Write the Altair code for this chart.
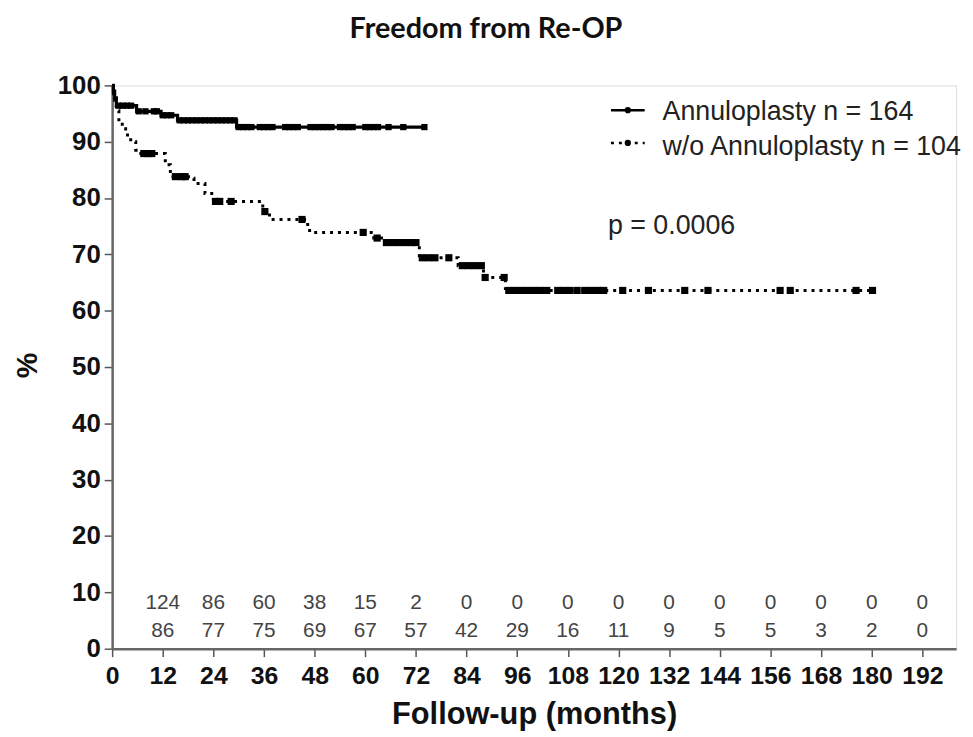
import altair as alt
import pandas as pd

FONT = "Liberation Sans"

# Kaplan-Meier step curves (months, % freedom from re-operation)
ann_t = [0, 0.3, 0.6, 1.0, 5.8, 11.6, 15.5, 29.5, 74]
ann_s = [100, 99, 97.8, 96.4, 95.4, 94.7, 93.8, 92.6, 92.6]

wo_t = [0, 0.3, 0.6, 1.0, 1.6, 2.4, 3.2, 4.4, 5.6, 6.8, 12.6, 13.8, 18.1, 19.4,
        22.0, 24.0, 35.7, 37.3, 45.6, 46.8, 62.0, 64.2, 72.8, 82.0, 88.0, 93.2, 181]
wo_s = [100, 98.5, 97, 95.5, 93.5, 92.3, 91.2, 90, 88.5, 87.9, 85.9, 83.8, 83.5, 82.6,
        80.8, 79.4, 77.6, 76.2, 75.3, 73.9, 72.9, 72.1, 69.4, 68.0, 65.9, 63.6, 63.6]

# censoring marks (months)
ann_c = [1.5, 2.5, 3.5, 4.5, 6.3, 7.9, 9.9, 10.6, 12, 13, 14, 16, 17, 18, 19, 20, 21, 22,
         23, 24, 25, 26, 27, 28, 29, 30, 31, 32, 33, 35, 36, 37, 38, 41, 42, 43, 44,
         47, 48, 49, 50, 51, 52, 54, 55, 56, 57, 60, 61, 62, 63, 65.5, 69, 74]
wo_c = [7.5, 8.5, 9.4, 15, 16.5, 17.3, 24.5, 25.5, 28.2, 36.2, 45, 59.5, 62.8, 65, 66.5,
        68, 69.5, 71, 72, 73.5, 75, 76.5, 79.8, 83, 84.5, 86, 87.5, 88.4, 92.9, 94, 95.5,
        97, 98.5, 100, 101.5, 103, 105.6, 107, 108.5, 110.2, 112, 113.5, 115, 116.5, 121,
        127.1, 135.7, 141.2, 158.3, 160.7, 176.3, 180.2]

# numbers at risk
risk_months = [12, 24, 36, 48, 60, 72, 84, 96, 108, 120, 132, 144, 156, 168, 180, 192]
risk_ann = [124, 86, 60, 38, 15, 2, 0, 0, 0, 0, 0, 0, 0, 0, 0, 0]
risk_wo = [86, 77, 75, 69, 67, 57, 42, 29, 16, 11, 9, 5, 5, 3, 2, 0]

x_ticks = list(range(0, 193, 12))
y_ticks = list(range(0, 101, 10))

legend_labels = ["Annuloplasty n = 164", "w/o Annuloplasty n = 104"]
p_text = "p = 0.0006"
title_text = "Freedom from Re-OP"


def on_curve(ts, ss, cs):
    out = []
    for c in cs:
        v = ss[0]
        for t, s in zip(ts, ss):
            if t <= c:
                v = s
        out.append(v)
    return out


df_ann = pd.DataFrame({"t": ann_t, "s": ann_s})
df_wo = pd.DataFrame({"t": wo_t, "s": wo_s})
df_ann_c = pd.DataFrame({"t": ann_c, "s": on_curve(ann_t, ann_s, ann_c)})
df_wo_c = pd.DataFrame({"t": wo_c, "s": on_curve(wo_t, wo_s, wo_c)})
df_risk = pd.DataFrame({"t": risk_months, "a": risk_ann, "w": risk_wo})
one = pd.DataFrame({"a": [0]})

xs = alt.Scale(domain=[0, 200], nice=False, zero=False)
ys = alt.Scale(domain=[0, 100], nice=False)

x_axis = alt.Axis(values=x_ticks, title="Follow-up (months)", grid=False,
                  labelFontSize=25, labelFontWeight="bold", labelColor="#111",
                  labelFont=FONT, labelPadding=7, labelFlush=False, labelOverlap=False,
                  tickSize=8, tickColor="#555", tickWidth=1.5,
                  domainColor="#666", domainWidth=2.5,
                  titleFont=FONT, titleFontSize=31, titleFontWeight="bold",
                  titleColor="#111", titlePadding=11)
y_axis = alt.Axis(values=y_ticks, title="%", grid=False,
                  labelFontSize=26, labelFontWeight="bold", labelColor="#111",
                  labelFont=FONT, labelPadding=4, labelFlush=False, labelOverlap=False,
                  tickSize=8, tickColor="#555", tickWidth=1.5,
                  domainColor="#666", domainWidth=2.5,
                  titleFont=FONT, titleFontSize=29, titleFontWeight="bold",
                  titleColor="#111", titleX=-85, titleY=282, titleBaseline="middle")

line_ann = alt.Chart(df_ann).mark_line(interpolate="step-after", color="black",
                                       strokeWidth=3.2).encode(
    x=alt.X("t:Q", scale=xs, axis=x_axis),
    y=alt.Y("s:Q", scale=ys, axis=y_axis))
line_wo = alt.Chart(df_wo).mark_line(interpolate="step-after", color="black",
                                     strokeWidth=3, strokeDash=[3, 5]).encode(
    x=alt.X("t:Q", scale=xs), y=alt.Y("s:Q", scale=ys))

pts_ann = alt.Chart(df_ann_c).mark_point(shape="square", filled=True, color="black",
                                         size=40, opacity=1).encode(
    x=alt.X("t:Q", scale=xs), y=alt.Y("s:Q", scale=ys))
pts_wo = alt.Chart(df_wo_c).mark_point(shape="square", filled=True, color="black",
                                       size=52, opacity=1).encode(
    x=alt.X("t:Q", scale=xs), y=alt.Y("s:Q", scale=ys))

risk1 = alt.Chart(df_risk).mark_text(font=FONT, fontSize=21, color="#444").encode(
    x=alt.X("t:Q", scale=xs), y=alt.value(522), text="a:Q")
risk2 = alt.Chart(df_risk).mark_text(font=FONT, fontSize=21, color="#444").encode(
    x=alt.X("t:Q", scale=xs), y=alt.value(550), text="w:Q")

title = alt.Chart(pd.DataFrame({"l": [title_text]})).mark_text(
    font="Lato", fontSize=29, fontWeight="bold", color="#111", align="center",
    baseline="middle").encode(x=alt.value(377), y=alt.value(-57), text="l:N")

leg_line1 = alt.Chart(one).mark_rule(color="black", strokeWidth=2.5).encode(
    x=alt.value(503), x2=alt.value(537), y=alt.value(25))
leg_dot1 = alt.Chart(one).mark_point(shape="circle", filled=True, color="black",
                                     size=40, opacity=1).encode(
    x=alt.value(520), y=alt.value(25))
leg_text1 = alt.Chart(pd.DataFrame({"l": [legend_labels[0]]})).mark_text(
    font=FONT, fontSize=27, color="#222", align="left", baseline="middle").encode(
    x=alt.value(555), y=alt.value(27), text="l:N")

leg_line2 = alt.Chart(one).mark_rule(color="black", strokeWidth=2.5,
                                     strokeDash=[3, 5]).encode(
    x=alt.value(503), x2=alt.value(537), y=alt.value(58))
leg_dot2 = alt.Chart(one).mark_point(shape="circle", filled=True, color="black",
                                     size=40, opacity=1).encode(
    x=alt.value(520), y=alt.value(58))
leg_text2 = alt.Chart(pd.DataFrame({"l": [legend_labels[1]]})).mark_text(
    font=FONT, fontSize=27, color="#222", align="left", baseline="middle").encode(
    x=alt.value(555), y=alt.value(62), text="l:N")

ptxt = alt.Chart(pd.DataFrame({"l": [p_text]})).mark_text(
    font=FONT, fontSize=27, color="#222", align="left", baseline="middle").encode(
    x=alt.value(500), y=alt.value(142), text="l:N")

chart = alt.layer(
    line_ann, line_wo, pts_ann, pts_wo, risk1, risk2, title,
    leg_line1, leg_dot1, leg_text1, leg_line2, leg_dot2, leg_text2, ptxt
).properties(
    width=851, height=568,
    autosize=alt.AutoSizeParams(type="none"),
    padding={"left": 105, "top": 75, "right": 9, "bottom": 86},
).configure_view(stroke=None).configure(background="white")

chart.save("out.html", embed_options={"renderer": "svg", "actions": False})
